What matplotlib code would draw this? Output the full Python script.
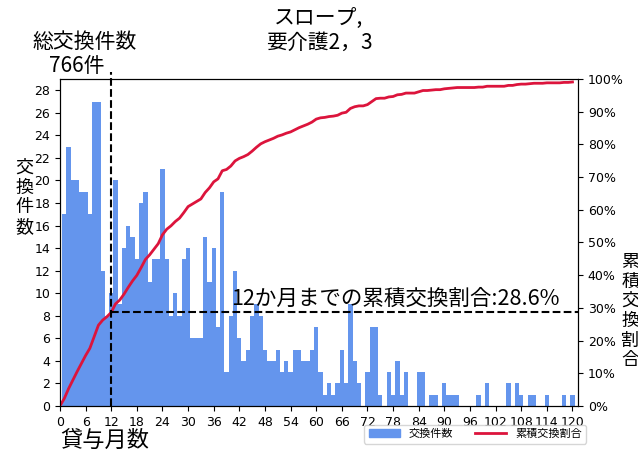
import numpy as np
import matplotlib.pyplot as plt
from matplotlib.ticker import PercentFormatter
from matplotlib.patches import Patch
from matplotlib.lines import Line2D

plt.rcParams['font.family'] = ['Noto Sans CJK JP', 'DejaVu Sans']

# 貸与月数ごとの交換件数 (1..120か月)
months = list(range(1, 121))
counts = [17, 23, 20, 20, 19, 19, 17, 27, 27, 12, 8, 10,
          20, 9, 14, 16, 15, 13, 18, 19, 11, 13, 13, 21,
          13, 8, 10, 8, 13, 14, 6, 6, 6, 15, 11, 14,
          7, 19, 3, 8, 12, 6, 4, 5, 8, 9, 8, 5,
          4, 4, 5, 3, 4, 3, 5, 5, 4, 4, 5, 7,
          3, 1, 2, 1, 2, 5, 2, 9, 4, 2, 0, 3,
          7, 7, 1, 0, 3, 1, 4, 1, 3, 0, 0, 3,
          3, 0, 1, 1, 0, 2, 1, 1, 1, 0, 0, 0,
          0, 1, 0, 2, 0, 0, 0, 0, 2, 0, 2, 1,
          0, 1, 1, 0, 0, 1, 0, 0, 0, 1, 0, 1]
total = 766
cutoff = 12
title = 'スロープ,\n要介護2，3'

cum_x = [0] + months
cum_y = np.concatenate([[0], np.cumsum(counts) / total])
pct12 = sum(counts[:cutoff]) / total
xmax = 121.3

fig = plt.figure(figsize=(6.38, 4.54), dpi=100)
ax = fig.add_axes([0.094, 0.106, 0.812, 0.720])
ax.bar(months, counts, width=1.0, color='cornflowerblue', linewidth=0)
ax.set_xlim(0, xmax)
ax.set_ylim(0, 29)
ax.set_xticks(range(0, 121, 6))
ax.set_yticks(range(0, 29, 2))
ax.tick_params(labelsize=9)
for lab in ax.get_xticklabels() + ax.get_yticklabels():
    lab.set_family('DejaVu Sans')

ax2 = ax.twinx()
ax2.plot(cum_x, cum_y, color='crimson', lw=2)
ax2.set_ylim(0, 1)
ax2.set_yticks(np.arange(0, 1.01, 0.1))
ax2.yaxis.set_major_formatter(PercentFormatter(1.0, decimals=0))
ax2.tick_params(labelsize=9)
for lab in ax2.get_yticklabels():
    lab.set_family('DejaVu Sans')

ax2.plot([cutoff, cutoff], [0, 1.02], color='black', ls='--', lw=1.5, clip_on=False)
ax2.plot([cutoff, xmax], [pct12, pct12], color='black', ls='--', lw=1.5)
ax2.text(40, pct12 + 0.008, f'{cutoff}か月までの累積交換割合:{pct12*100:.1f}%',
         fontsize=15.5, va='bottom', ha='left')

fig.text(0.5, 0.985, title, ha='center', va='top', fontsize=15, linespacing=1.2)
fig.text(0.133, 0.907, '総交換件数', ha='center', va='center', fontsize=15)
fig.text(0.121, 0.854, f'{total}件', ha='center', va='center', fontsize=15)
fig.text(0.038, 0.565, '交\n換\n件\n数', ha='center', va='center', fontsize=13, linespacing=1.12)
fig.text(0.988, 0.315, '累\n積\n交\n換\n割\n合', ha='center', va='center', fontsize=13, linespacing=1.12)
fig.text(0.094, 0.029, '貸与月数', ha='left', va='center', fontsize=16)

handles = [Patch(color='cornflowerblue', label='交換件数'),
           Line2D([], [], color='crimson', lw=2, label='累積交換割合')]
fig.legend(handles=handles, loc='center', bbox_to_anchor=(0.745, 0.044), ncol=2,
           fontsize=8, handlelength=2.8, columnspacing=2.0)

fig.savefig('out.png', dpi=100)
